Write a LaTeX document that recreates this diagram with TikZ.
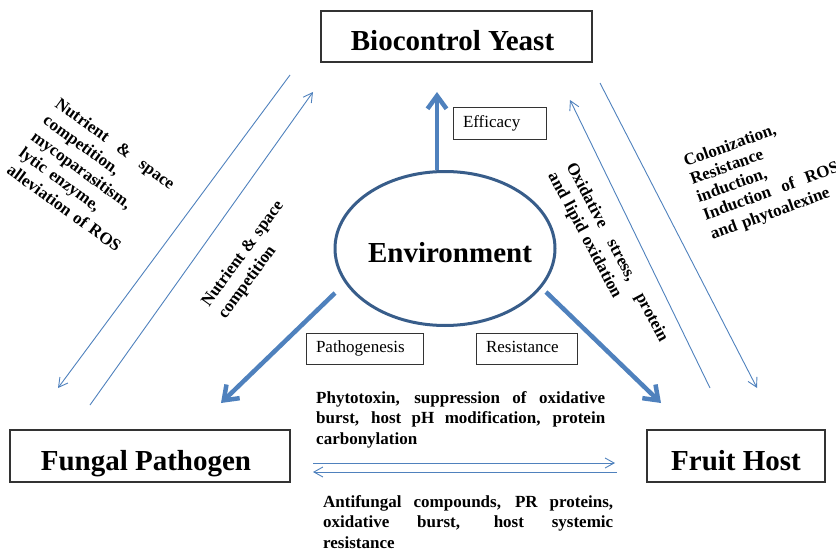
\documentclass[tikz,border=0pt]{standalone}
\usepackage{fontspec}
\setmainfont{Liberation Serif}
\usetikzlibrary{shapes,arrows.meta,positioning}
\definecolor{lineblue}{RGB}{79,129,189}
\definecolor{ringblue}{RGB}{56,93,138}
\tikzstyle{party}=[rectangle,draw=black!80,line width=1.1pt,font=\fontsize{29}{33}\selectfont\bfseries,inner sep=0pt,text height=28pt,text depth=0pt]
\tikzstyle{envring}=[ellipse,draw=ringblue,line width=3pt,minimum width=220pt,minimum height=154pt,inner sep=0pt,font=\fontsize{29}{33}\selectfont\bfseries,text height=28pt,text depth=0pt]
\tikzstyle{tag}=[rectangle,draw=black!80,line width=1pt,font=\fontsize{17}{20}\selectfont,align=left,inner xsep=10pt,inner ysep=0pt,minimum height=31pt,text height=12pt,text depth=4pt]
\tikzstyle{note}=[font=\fontsize{17}{20.5}\selectfont\bfseries,inner sep=0pt,anchor=base west]
\tikzstyle{arr}=[-{Straight Barb[length=9pt,width=10pt]},lineblue,line width=0.9pt]
\tikzstyle{bigarr}=[-{Straight Barb[length=13pt,width=19pt]},lineblue,line width=4.5pt]

\begin{document}
\begin{tikzpicture}[x=1pt,y=-1pt]
\useasboundingbox (0,0) rectangle (836,551);
% the three parties and the environment
\node[party,minimum width=271pt,minimum height=51pt] (yeast) at (456.5,36.5) {\makebox[0pt]{Biocontrol Yeast\hspace*{8pt}}};
\node[party,minimum width=280pt,minimum height=52pt] (fungus) at (150,456) {\makebox[0pt]{Fungal Pathogen\hspace*{8pt}}};
\node[party,minimum width=178pt,minimum height=52pt] (fruit) at (736,456) {Fruit Host};
\node[envring] (env) at (445,248.5) {\makebox[0pt]{\hspace*{10pt}Environment}};
\node[tag,text width=73pt] (efficacy) at (499.5,123.5) {Efficacy};
\node[tag,text width=97pt] (patho) at (364.5,348.5) {Pathogenesis};
\node[tag,text width=81pt] (resist) at (526.5,348.5) {Resistance};
% arrow ends
\coordinate (effTip) at (437,92);
\coordinate (pathStart) at (335,293);
\coordinate (pathTip) at (221,403);
\coordinate (resStart) at (546,292);
\coordinate (resTip) at (661,403);
\coordinate (ylA) at (290,75);
\coordinate (ylB) at (58,388);
\coordinate (lyA) at (90,405);
\coordinate (lyB) at (313,92);
\coordinate (ryA) at (710,388);
\coordinate (ryB) at (570,100);
\coordinate (yrA) at (600,83);
\coordinate (yrB) at (757,388);
\coordinate (frA) at (313,463);
\coordinate (frB) at (615,463);
\coordinate (rfA) at (617,472);
\coordinate (rfB) at (313,472);
\draw[bigarr] (env.north -| effTip) -- (effTip);
\draw[bigarr] (pathStart) -- (pathTip);
\draw[bigarr] (resStart) -- (resTip);
\draw[arr] (ylA) -- (ylB);
\draw[arr] (lyA) -- (lyB);
\draw[arr] (ryA) -- (ryB);
\draw[arr] (yrA) -- (yrB);
\draw[arr] (frA) -- (frB);
\draw[arr] (rfA) -- (rfB);
% texts along the arrows
\node[note,text width=143pt,align=left,rotate=-36] (yeastFungus) at (54,106) {Nutrient\hfill\&\hfill space\\competition,\\mycoparasitism,\\lytic enzyme,\\alleviation of ROS};
\node[note,text width=127pt,align=left,rotate=54] (fungusYeast) at (209,308) {Nutrient\hfill\&\hfill space\\competition};
\node[note,text width=200pt,align=left,rotate=-62] (fruitYeast) at (566,166) {Oxidative\hfill stress,\hfill protein\\and lipid oxidation};
\node[note,text width=143pt,align=left,rotate=20] (yeastFruit) at (686,167) {\fontsize{17}{19}\selectfont Colonization,\\Resistance\\induction,\\Induction\hfill of\hfill ROS\\and phytoalexine};
\node[note,text width=289pt,align=justify] (fungusFruit) at (316,403) {Phytotoxin, suppression of oxidative\linebreak burst, host pH modification, protein\linebreak carbonylation};
\node[note,text width=290pt,align=justify] (fruitFungus) at (323,507) {Antifungal compounds, PR proteins,\linebreak oxidative burst, host systemic\linebreak resistance};
\end{tikzpicture}
\end{document}
